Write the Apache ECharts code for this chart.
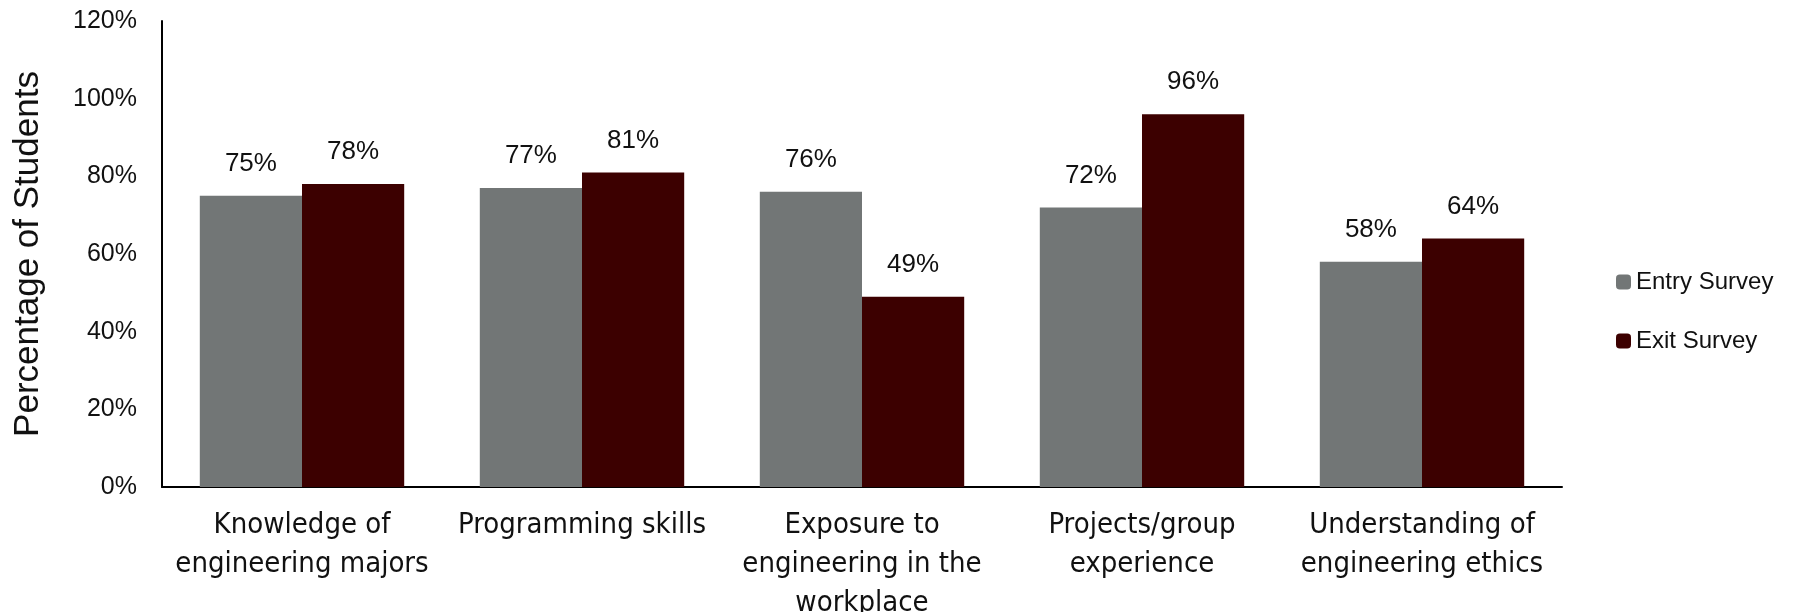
<!DOCTYPE html>
<html><head><meta charset="utf-8">
<script src="https://cdn.jsdelivr.net/npm/echarts@6/dist/echarts.min.js"></script>
<style>html,body{margin:0;padding:0;background:#fff}#c{width:1818px;height:612px}</style>
</head><body><div id="c"></div>
<script>
const categories = ["Knowledge of\nengineering majors", "Programming skills", "Exposure to\nengineering in the\nworkplace", "Projects/group\nexperience", "Understanding of\nengineering ethics"];
const entrySurvey = [75, 77, 76, 72, 58];
const exitSurvey = [78, 81, 49, 96, 64];
const yTicks = [0, 20, 40, 60, 80, 100, 120];

const chart = echarts.init(document.getElementById('c'));
const labelStyle = {show: true, position: 'top', distance: 19, formatter: p => p.value + '%', fontFamily: 'Liberation Sans', fontSize: 26, color: '#111'};
chart.setOption({
  animation: false,
  grid: {left: 162, right: 256, top: 21, bottom: 125, outerBoundsMode: 'none', containLabel: false},
  legend: {
    orient: 'vertical', left: 1611, top: 265, itemWidth: 15, itemHeight: 15, itemGap: 35,
    textStyle: {fontFamily: 'Liberation Sans', fontSize: 24, color: '#111', padding: [0,0,0,0]},
    data: ['Entry Survey', 'Exit Survey']
  },
  xAxis: {
    type: 'category', data: categories,
    axisLine: {lineStyle: {color: '#000', width: 2}},
    axisTick: {show: false},
    axisLabel: {interval: 0, fontFamily: "'Liberation Sans Narrow', 'DejaVu Sans Condensed', 'Liberation Sans', sans-serif", fontSize: 29, lineHeight: 39, color: '#111', margin: 19}
  },
  yAxis: {
    type: 'value', min: yTicks[0], max: yTicks[yTicks.length-1], interval: 20,
    name: 'Percentage of Students', nameLocation: 'middle', nameGap: 116,
    nameTextStyle: {fontFamily: 'Liberation Sans', fontSize: 35, color: '#111'},
    axisLine: {show: true, lineStyle: {color: '#000', width: 2}},
    axisTick: {show: false},
    splitLine: {show: false},
    axisLabel: {formatter: v => v + '%', fontFamily: 'Liberation Sans', fontSize: 25, color: '#111', margin: 25}
  },
  series: [
    {name: 'Entry Survey', type: 'bar', data: entrySurvey, barGap: '0%', barCategoryGap: '27%', itemStyle: {color: '#727676'}, label: labelStyle},
    {name: 'Exit Survey', type: 'bar', data: exitSurvey, itemStyle: {color: '#3c0000'}, label: labelStyle}
  ]
});
</script></body></html>
